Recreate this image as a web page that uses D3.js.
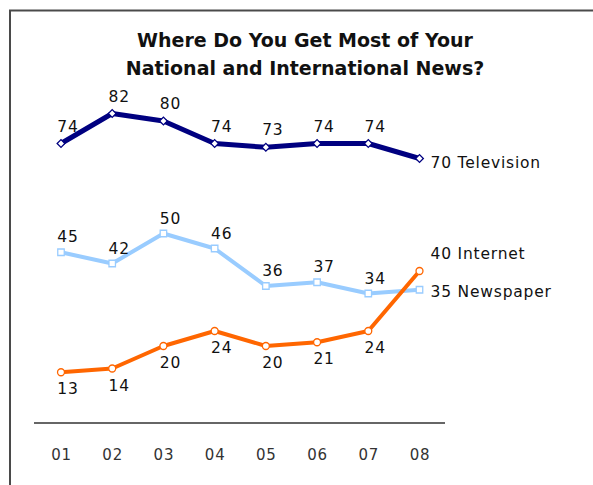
<!DOCTYPE html>
<html>
<head>
<meta charset="utf-8">
<script src="https://cdnjs.cloudflare.com/ajax/libs/d3/7.8.5/d3.min.js"></script>
<style>
  body { margin: 0; background: #fff; }
  svg { display: block; }
</style>
</head>
<body>
<svg id="chart" width="593" height="485"></svg>
<script>
const years = ["01", "02", "03", "04", "05", "06", "07", "08"]
const television = [74, 82, 80, 74, 73, 74, 74, 70]
const newspaper = [45, 42, 50, 46, 36, 37, 34, 35]
const internet = [13, 14, 20, 24, 20, 21, 24, 40]
const titleLines = ["Where Do You Get Most of Your", "National and International News?"]

const svg = d3.select("#chart")
const font = "DejaVu Sans, Verdana, sans-serif"

// frame (top + left only)
svg.append("path")
    .attr("d", "M10,485 V10.5 H593")
    .attr("fill", "none")
    .attr("stroke", "#4a4a4a")
    .attr("stroke-width", 2)

// title
svg.selectAll("text.title")
    .data(titleLines)
    .enter()
    .append("text")
    .attr("class", "title")
    .attr("x", 305)
    .attr("y", (d, i) => 47 + i * 28)
    .attr("text-anchor", "middle")
    .attr("font-family", font)
    .attr("font-weight", "bold")
    .attr("font-size", "19px")
    .attr("fill", "#111")
    .text(d => d)

// scales
let xScale = d3.scalePoint()
    .domain(years)
    .range([61, 419.5])

let yScale = d3.scaleLinear()
    .domain([0, 100])
    .range([421, 46])

// baseline
svg.append("line")
    .attr("x1", 34).attr("x2", 445)
    .attr("y1", 423).attr("y2", 423)
    .attr("stroke", "#333")
    .attr("stroke-width", 1.5)

// x axis labels
let xAxis = svg.append("g")
    .attr("transform", "translate(0,423)")
    .call(d3.axisBottom(xScale).tickSize(0).tickPadding(0))
xAxis.select(".domain").remove()
xAxis.selectAll("text")
    .attr("font-family", font)
    .attr("font-size", "15px")
    .attr("letter-spacing", "0.8px")
    .attr("fill", "#333")
    .attr("dy", null)
    .attr("y", 37)

const series = [
    { name: "Television", values: television, color: "#000080", width: 5, shape: d3.symbolSquare, rotate: 45, size: 30, labelDy: -12, endDy: 9 },
    { name: "Newspaper", values: newspaper, color: "#99ccff", width: 4, shape: d3.symbolSquare, rotate: 0, size: 42, labelDy: -10, endDy: 7 },
    { name: "Internet", values: internet, color: "#ff6600", width: 4, shape: d3.symbolCircle, rotate: 0, size: 38, labelDy: 22, endDy: -12 }
]

let line = d3.line()
    .x((d, i) => xScale(years[i]))
    .y(d => yScale(d))

series.forEach(s => {
    let g = svg.append("g")

    g.append("path")
        .attr("d", line(s.values))
        .attr("fill", "none")
        .attr("stroke", s.color)
        .attr("stroke-width", s.width)
        .attr("stroke-linejoin", "round")

    g.selectAll("path.marker")
        .data(s.values)
        .enter()
        .append("path")
        .attr("class", "marker")
        .attr("d", d3.symbol().type(s.shape).size(s.size))
        .attr("transform", (d, i) => "translate(" + xScale(years[i]) + "," + yScale(d) + ") rotate(" + s.rotate + ")")
        .attr("fill", "#fff")
        .attr("stroke", s.color)
        .attr("stroke-width", 1.3)

    // point labels (all but last)
    g.selectAll("text.val")
        .data(s.values.slice(0, -1))
        .enter()
        .append("text")
        .attr("class", "val")
        .attr("x", (d, i) => xScale(years[i]) + 7)
        .attr("y", d => yScale(d) + s.labelDy)
        .attr("text-anchor", "middle")
        .attr("font-family", font)
        .attr("font-size", "15.5px")
        .attr("letter-spacing", "0.8px")
        .attr("fill", "#111")
        .text(d => d)

    // end label
    let last = s.values[s.values.length - 1]
    g.append("text")
        .attr("x", xScale(years[years.length - 1]) + 11)
        .attr("y", yScale(last) + s.endDy)
        .attr("font-family", font)
        .attr("font-size", "15.5px")
        .attr("letter-spacing", "0.8px")
        .attr("fill", "#111")
        .text(last + " " + s.name)
})
</script>
</body>
</html>
